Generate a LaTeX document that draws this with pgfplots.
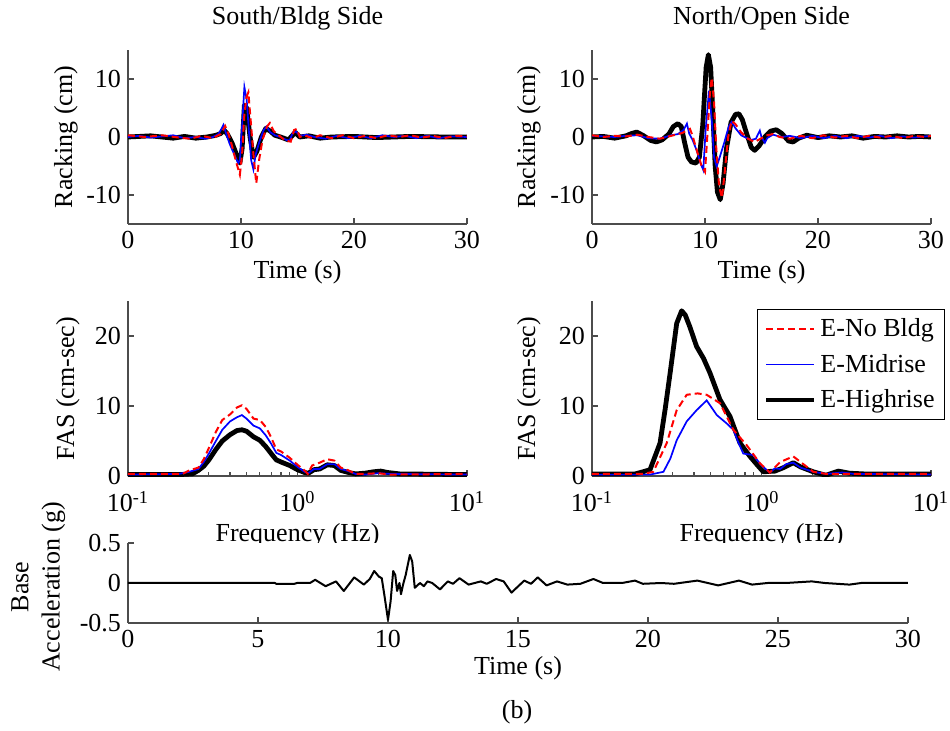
\documentclass[border=0pt]{standalone}
\usepackage{fontspec}
\setmainfont{Liberation Serif}
\usepackage{pgfplots}
\pgfplotsset{compat=1.18}
\newcommand{\fs}{\fontsize{13}{15.6}\selectfont}
\pgfplotsset{
  every axis title shift=0pt,
  mat/.style={
    scale only axis,
    axis x line=bottom, axis y line=left,
    axis line style={-, black!70, line width=0.6pt},
    tick style={black!70, line width=0.6pt},
    tick align=inside,
    major tick length=3pt,
    minor tick length=1.8pt,
    /pgf/number format/assume math mode=true,
    font=\fs,
    tick label style={font=\fs, black},
    label style={font=\fs},
    title style={font=\fs},
  },
  nob/.style={red, line width=1pt, dash pattern=on 3.5pt off 2pt},
  mid/.style={blue, line width=0.85pt},
  high/.style={black, line width=2.4pt, line join=round},
}
\begin{document}
\begin{tikzpicture}
\path[use as bounding box] (0,0) rectangle (475pt,365pt);

% ---------------- top-left: South/Bldg Side ----------------
\begin{axis}[mat, at={(64pt,253pt)}, anchor=south west,
  width=169.5pt, height=87pt,
  xmin=0, xmax=30, ymin=-15, ymax=15,
  xtick={0,10,20,30}, ytick={-10,0,10},
  title={South/Bldg Side},
  title style={at={(axis description cs:0.5,1.184)}, anchor=center},
  xlabel={Time (s)},
  xlabel style={at={(axis description cs:0.5,-0.276)}, anchor=center},
  ylabel={Racking (cm)},
  ylabel style={at={(axis description cs:-0.183,0.5)}, anchor=center, rotate=0},
]
\addplot[high] coordinates {
(0,0) (2,0.2) (4,-0.2) (5,0.1) (6,-0.2) (7,0) (7.8,0.3) (8.2,0.6) (8.5,1.2) (8.8,0.5)
(9.2,-1) (9.6,-3) (9.9,-4.5) (10.1,-2) (10.3,5.5) (10.5,5.0) (10.8,0) (11.1,-3.5)
(11.4,-2.5) (11.8,0) (12.2,1.5) (12.6,1) (13,0.3) (13.5,0) (14.2,-0.5) (14.8,0.8)
(15.2,0) (16,0.2) (17,-0.2) (18,0) (20,0.1) (22,-0.1) (25,0.1) (28,0) (30,0)};
\addplot[mid] coordinates {
(0,0) (1,0.2) (2,-0.1) (3,0.1) (4,0.3) (5,-0.2) (6,0) (6.8,-0.3) (7.5,0) (8,0.5)
(8.3,1.5) (8.45,2.1) (8.7,0.5) (9.0,-1.2) (9.4,-3) (9.75,-4.5) (9.9,-4) (10.1,2)
(10.3,8.6) (10.5,6.5) (10.7,1) (10.9,-4) (11.1,-5.6) (11.3,-3) (11.6,-1) (12.0,1.2)
(12.25,1.8) (12.6,0.8) (13,0.3) (13.5,0) (14,-0.5) (14.3,-0.6) (14.6,0.8) (14.9,0.9)
(15.2,0.2) (15.8,0.4) (16.5,0) (17.5,-0.3) (18.5,0.2) (19.5,-0.2) (20.5,0.2) (21.5,-0.2)
(22.5,0.3) (23.5,0) (24.5,0.2) (25.5,-0.2) (26.5,0.2) (27.5,-0.2) (28.5,0.1) (30,0)};
\addplot[nob] coordinates {
(0,0.3) (1.5,0) (3,0.3) (4.5,-0.1) (5.5,-0.3) (6.5,0.2) (7.5,-0.2) (8.2,0.5) (8.6,1.9)
(8.9,0.5) (9.2,-1.5) (9.6,-4.5) (9.9,-6.5) (10.1,-3) (10.3,4) (10.5,7) (10.65,7.7)
(10.85,3) (11.1,-3) (11.35,-8.0) (11.6,-4) (11.9,-0.5) (12.3,1.8) (12.55,2.4) (12.9,1)
(13.4,0.2) (13.9,-0.6) (14.4,-0.8) (14.7,1.2) (14.95,1.4) (15.2,0) (15.6,0.3) (16.3,-0.2)
(17,0.3) (18,-0.2) (19,0.3) (20,-0.2) (21,0.2) (22,-0.2) (23,0.3) (24,0) (25,0.3)
(26,-0.1) (27,0.2) (28,-0.2) (29,0.2) (30,0.1)};
\end{axis}

% ---------------- top-right: North/Open Side ----------------
\begin{axis}[mat, at={(296pt,253pt)}, anchor=south west,
  width=169.5pt, height=87pt,
  xmin=0, xmax=30, ymin=-15, ymax=15,
  xtick={0,10,20,30}, ytick={-10,0,10},
  title={North/Open Side},
  title style={at={(axis description cs:0.5,1.184)}, anchor=center},
  xlabel={Time (s)},
  xlabel style={at={(axis description cs:0.5,-0.276)}, anchor=center},
  ylabel={Racking (cm)},
  ylabel style={at={(axis description cs:-0.186,0.5)}, anchor=center, rotate=0},
]
\addplot[high] coordinates {
(0,0) (1,0.1) (2,-0.2) (3,0.2) (3.5,0.6) (3.95,0.85) (4.5,0.3) (5.2,-0.6) (5.7,-0.85)
(6.2,-0.5) (6.8,0.5) (7.2,1.8) (7.6,2.3) (7.9,1.8) (8.2,-1) (8.5,-3.5) (8.8,-4.3)
(9.2,-4.5) (9.5,-3.5) (9.8,2) (10.1,12) (10.3,14.2) (10.5,12) (10.7,4) (10.9,-5)
(11.1,-9.5) (11.35,-10.8) (11.6,-8) (11.9,-2) (12.3,2.5) (12.7,3.9) (13.0,4.0) (13.3,3)
(13.7,0.5) (14.1,-1.8) (14.4,-2.3) (14.8,-1.5) (15.3,0) (15.8,1.0) (16.3,1.25) (16.8,0.6)
(17.4,-0.7) (17.8,-0.85) (18.3,-0.2) (19,0.3) (20,-0.1) (21,0.2) (22,0) (23,0.2)
(24,-0.2) (25,0.1) (26,0) (27,0.2) (28,0) (29,0.1) (30,0)};
\addplot[mid] coordinates {
(0,0.2) (1,0.1) (2,0) (3,0.2) (4,0.3) (5,-0.2) (6,-0.3) (7,0.3) (7.6,0.5) (8.1,1.2)
(8.4,2.3) (8.6,0.6) (8.9,-0.5) (9.3,-2.5) (9.6,-4.5) (9.85,-5.7) (10.05,1) (10.35,8.0)
(10.6,3) (10.8,-3.5) (11.03,-5.1) (11.3,-3.5) (11.7,-1) (12.1,1.8) (12.36,2.6) (12.7,1.5)
(13.2,0.3) (13.7,-0.2) (14.1,-0.5) (14.5,-0.3) (14.85,1.1) (15.0,0) (15.3,-1.0)
(15.5,-0.2) (16,0.4) (16.8,0) (17.5,0.2) (18.5,-0.2) (19.5,0.2) (20.5,-0.2) (21.5,0.2)
(22.5,-0.2) (23.5,0.2) (24.5,-0.1) (25.5,0.2) (26.5,-0.2) (27.5,0.1) (28.5,-0.1) (30,0.2)};
\addplot[nob] coordinates {
(0,0.3) (1,0) (2,0.2) (3,0.1) (4,0.4) (5,0) (6,-0.3) (7,0.2) (8,0.7) (8.67,1.4)
(8.9,0.2) (9.3,-2.5) (9.7,-5) (10.0,-6.0) (10.2,0) (10.45,8) (10.6,10.2) (10.8,6)
(11.0,-2) (11.25,-8.5) (11.5,-10.5) (11.75,-6) (12.05,0) (12.36,2.8) (12.7,2.2)
(13.2,0.8) (13.8,-0.3) (14.4,-0.85) (14.9,-0.3) (15.5,0.3) (16,0.5) (16.6,0)
(17.5,-0.3) (18.5,0.2) (19.5,-0.2) (20.5,0.3) (21.5,-0.1) (22.5,0.2) (23.5,-0.2)
(24.5,0.2) (25.5,-0.1) (26.5,0.2) (27.5,-0.2) (28.5,0.2) (29.5,0) (30,0.2)};
\end{axis}

% ---------------- middle-left: FAS South ----------------
\begin{axis}[mat, at={(64pt,127pt)}, anchor=south west,
  width=169.5pt, height=87.5pt,
  xmode=log, xmin=0.1, xmax=10, ymin=0, ymax=25,
  xtick={0.1,1,10},
  xticklabels={10\textsuperscript{-1},10\textsuperscript{0},10\textsuperscript{1}},
  xticklabel style={yshift=-4pt},
  minor xtick={0.2,0.3,0.4,0.5,0.6,0.7,0.8,0.9,2,3,4,5,6,7,8,9},
  ytick={0,10,20},
  xlabel={Frequency (Hz)},
  xlabel style={at={(axis description cs:0.5,-0.377)}, anchor=base},
  ylabel={FAS (cm-sec)},
  ylabel style={at={(axis description cs:-0.177,0.5)}, anchor=center, rotate=0},
]
\addplot[high] coordinates {
(0.1,0.2) (0.2,0.2) (0.24,0.3) (0.26,0.8) (0.28,1.4) (0.3,2.3) (0.33,3.8) (0.36,5.0)
(0.4,5.9) (0.44,6.5) (0.47,6.6) (0.5,6.4) (0.55,5.6) (0.6,5.1) (0.65,4.2) (0.7,3.2)
(0.75,2.3) (0.8,2.0) (0.9,1.5) (1.0,0.9) (1.1,0.5) (1.16,0.4) (1.25,0.9) (1.35,1.0)
(1.5,1.6) (1.65,1.5) (1.8,0.8) (2.0,0.5) (2.2,0.3) (2.5,0.4) (2.8,0.6) (3.1,0.7)
(3.4,0.5) (4,0.3) (10,0.2)};
\addplot[mid] coordinates {
(0.1,0.2) (0.2,0.3) (0.23,0.6) (0.26,1.0) (0.28,2.0) (0.3,3.2) (0.33,5.0) (0.36,6.6)
(0.4,7.8) (0.44,8.4) (0.47,8.7) (0.5,8.2) (0.55,7.2) (0.6,6.8) (0.65,5.8) (0.7,4.6)
(0.75,3.3) (0.8,3.0) (0.9,2.2) (1.0,1.3) (1.1,0.6) (1.16,0.4) (1.25,1.0) (1.35,1.0)
(1.5,1.7) (1.65,1.7) (1.8,1.0) (2.0,0.7) (2.2,0.3) (2.5,0.2) (3,0.4) (3.5,0.3) (10,0.2)};
\addplot[nob] coordinates {
(0.1,0.3) (0.21,0.3) (0.23,0.8) (0.26,1.2) (0.28,2.4) (0.3,4.0) (0.33,6.3) (0.36,8.0)
(0.4,8.8) (0.44,9.8) (0.47,10.1) (0.5,9.6) (0.55,8.2) (0.6,8.0) (0.65,7.0) (0.7,5.5)
(0.75,3.8) (0.8,3.5) (0.9,2.6) (1.0,1.6) (1.1,0.8) (1.15,0.3) (1.22,1.5) (1.35,1.9)
(1.5,2.4) (1.65,2.2) (1.8,1.2) (2.0,0.8) (2.2,0.3) (2.5,0.3) (3,0.4) (3.5,0.2) (10,0.3)};
\end{axis}

% ---------------- middle-right: FAS North ----------------
\begin{axis}[mat, at={(296pt,127pt)}, anchor=south west,
  width=169.5pt, height=87.5pt,
  xmode=log, xmin=0.1, xmax=10, ymin=0, ymax=25,
  xtick={0.1,1,10},
  xticklabels={10\textsuperscript{-1},10\textsuperscript{0},10\textsuperscript{1}},
  xticklabel style={yshift=-4pt},
  minor xtick={0.2,0.3,0.4,0.5,0.6,0.7,0.8,0.9,2,3,4,5,6,7,8,9},
  ytick={0,10,20},
  xlabel={Frequency (Hz)},
  xlabel style={at={(axis description cs:0.5,-0.377)}, anchor=base},
  ylabel={FAS (cm-sec)},
  ylabel style={at={(axis description cs:-0.186,0.5)}, anchor=center, rotate=0},
  legend style={at={(axis description cs:0.487,0.954)}, anchor=north west,
    draw=black, line width=0.6pt, font=\fs, inner xsep=3pt, inner ysep=2.5pt,
    row sep=3.2pt, cells={anchor=west}},
  legend image code/.code={\draw[#1] (0pt,0pt) -- (24pt,0pt);},
]
\addplot[high, forget plot] coordinates {
(0.1,0.3) (0.18,0.3) (0.2,0.6) (0.22,0.9) (0.252,4.7) (0.27,9.5) (0.289,14.7)
(0.316,21.8) (0.338,23.6) (0.355,23.0) (0.378,21.3) (0.414,18.5) (0.455,16.8)
(0.497,14.7) (0.569,10.9) (0.652,8.5) (0.7,6.5) (0.747,4.7) (0.855,2.8) (0.95,1.5)
(1.025,0.6) (1.2,0.7) (1.35,1.2) (1.54,1.9) (1.7,1.3) (2.02,0.6) (2.4,0.1)
(2.84,0.7) (3.3,0.4) (4,0.3) (10,0.3)};
\addplot[mid, forget plot] coordinates {
(0.1,0.2) (0.22,0.2) (0.264,0.6) (0.29,2.5) (0.316,5.1) (0.362,7.8) (0.414,9.4)
(0.475,10.8) (0.545,8.7) (0.624,7.5) (0.682,6.6) (0.73,4.8) (0.781,3.2) (0.894,3.0)
(1.0,1.5) (1.12,0.5) (1.2,1.1) (1.29,1.0) (1.4,1.7) (1.54,1.9) (1.7,1.2) (2.02,0.6)
(2.4,0.3) (3.0,0.5) (3.5,0.3) (10,0.2)};
\addplot[nob, forget plot] coordinates {
(0.1,0.3) (0.2,0.3) (0.23,0.6) (0.276,4.7) (0.316,9.4) (0.362,11.6) (0.42,11.8)
(0.475,11.6) (0.569,10.4) (0.682,6.6) (0.818,4.4) (0.98,1.8) (1.12,0.5) (1.29,2.0)
(1.54,2.8) (1.7,2.0) (2.02,0.6) (2.4,0.3) (3,0.3) (10,0.3)};
\addlegendimage{nob}
\addlegendentry{E-No Bldg}
\addlegendimage{mid}
\addlegendentry{E-Midrise}
\addlegendimage{high, line join=miter}
\addlegendentry{E-Highrise}
\end{axis}

% ---------------- bottom: Base acceleration ----------------
\begin{axis}[mat, at={(64pt,53.5pt)}, anchor=south west,
  width=390pt, height=40pt,
  xmin=0, xmax=30, ymin=-0.5, ymax=0.5,
  xtick={0,5,10,15,20,25,30}, ytick={-0.5,0,0.5},
  axis background/.style={fill=white},
  xlabel={Time (s)},
  xlabel style={at={(axis description cs:0.5,-0.5625)}, anchor=center},
  ylabel={Base\\Acceleration (g)},
  ylabel style={at={(axis description cs:-0.115,0.45)}, anchor=center, rotate=0, align=center},
]
\addplot[black, line width=1pt, line join=round] coordinates {
(0,0) (5.65,0) (5.7,-0.01) (6.4,-0.01) (6.5,0) (7.0,0) (7.2,0.04) (7.6,-0.04)
(8.0,0.02) (8.3,-0.1) (8.7,0.07) (9.07,-0.02) (9.3,0.05) (9.47,0.15) (9.65,0.08)
(9.76,0.06) (9.86,-0.15) (10.0,-0.46) (10.1,-0.23) (10.2,0.15) (10.28,0.1)
(10.35,-0.1) (10.44,0) (10.5,-0.14) (10.58,-0.02) (10.68,0.1) (10.84,0.35)
(10.93,0.27) (11.03,-0.06) (11.23,0) (11.38,-0.04) (11.52,0.02) (11.7,0) (12.0,-0.08)
(12.3,0.02) (12.5,-0.01) (12.75,0.06) (13.1,-0.02) (13.57,0.02) (13.8,-0.01)
(14.16,0.05) (14.45,0.02) (14.75,-0.12) (15.24,0.03) (15.5,-0.01) (15.76,0.07)
(16.1,-0.03) (16.5,0.02) (16.9,-0.02) (17.4,-0.01) (17.9,0.05) (18.27,0) (19.0,0)
(19.5,0.03) (19.8,-0.01) (20.5,0) (21.0,-0.01) (21.9,0.03) (22.7,-0.03) (23.1,0)
(23.5,0.03) (24.0,-0.02) (24.6,0) (25.3,0) (26.3,0.02) (26.8,0) (27.75,-0.02)
(28.2,0) (30,0)};
\end{axis}

\node[font=\fs] at (258.5pt,9pt) {(b)};
\end{tikzpicture}
\end{document}
